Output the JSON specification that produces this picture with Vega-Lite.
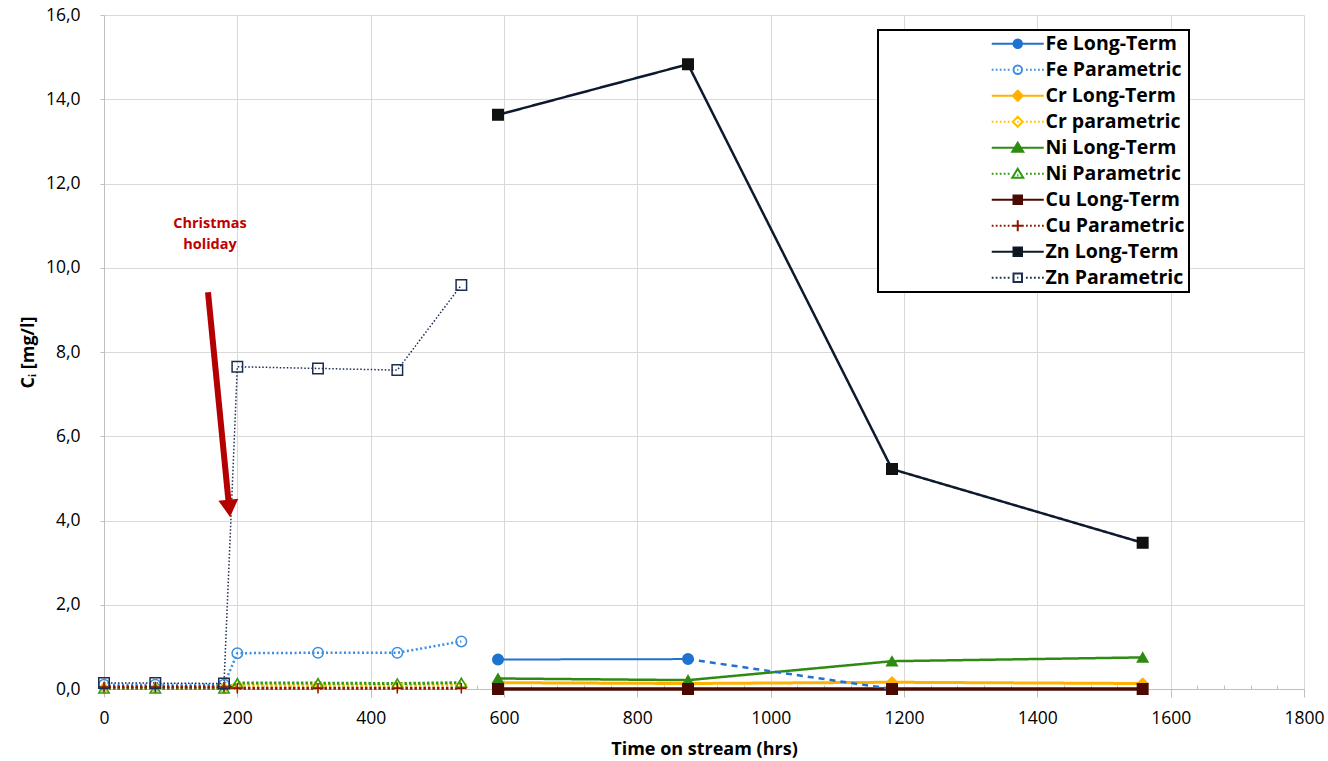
{
  "$schema": "https://vega.github.io/schema/vega-lite/v6.json",
  "width": 1200,
  "height": 674,
  "autosize": {"type": "none"},
  "padding": {"left": 104, "top": 15, "right": 24, "bottom": 72},
  "background": "white",
  "config": {
    "font": "Open Sans",
    "view": {"stroke": null},
    "axis": {
      "gridColor": "#d9d9d9",
      "gridWidth": 1,
      "domainColor": "#bfbfbf",
      "tickColor": "#bfbfbf",
      "labelFont": "Open Sans",
      "labelFontSize": 17.5,
      "labelColor": "#000000",
      "titleFont": "Open Sans",
      "titleFontSize": 18,
      "titleFontWeight": "bold",
      "titleColor": "#000000"
    },
    "legend": {"strokeWidth": 2}
  },
  "datasets": {
    "series": [
      {"series": "Fe Long-Term", "t": 591, "c": 0.70},
      {"series": "Fe Long-Term", "t": 876, "c": 0.71},
      {"series": "Fe Parametric", "t": 0, "c": 0.10},
      {"series": "Fe Parametric", "t": 77, "c": 0.10},
      {"series": "Fe Parametric", "t": 180, "c": 0.10},
      {"series": "Fe Parametric", "t": 200, "c": 0.85},
      {"series": "Fe Parametric", "t": 321, "c": 0.86},
      {"series": "Fe Parametric", "t": 440, "c": 0.86},
      {"series": "Fe Parametric", "t": 536, "c": 1.13},
      {"series": "Cr Long-Term", "t": 591, "c": 0.15},
      {"series": "Cr Long-Term", "t": 876, "c": 0.13},
      {"series": "Cr Long-Term", "t": 1182, "c": 0.16},
      {"series": "Cr Long-Term", "t": 1558, "c": 0.13},
      {"series": "Cr parametric", "t": 0, "c": 0.02},
      {"series": "Cr parametric", "t": 77, "c": 0.02},
      {"series": "Cr parametric", "t": 180, "c": 0.02},
      {"series": "Cr parametric", "t": 200, "c": 0.09},
      {"series": "Cr parametric", "t": 321, "c": 0.09},
      {"series": "Cr parametric", "t": 440, "c": 0.09},
      {"series": "Cr parametric", "t": 536, "c": 0.10},
      {"series": "Ni Long-Term", "t": 591, "c": 0.25},
      {"series": "Ni Long-Term", "t": 876, "c": 0.21},
      {"series": "Ni Long-Term", "t": 1182, "c": 0.66},
      {"series": "Ni Long-Term", "t": 1558, "c": 0.75},
      {"series": "Ni Parametric", "t": 0, "c": 0.01},
      {"series": "Ni Parametric", "t": 77, "c": 0.01},
      {"series": "Ni Parametric", "t": 180, "c": 0.01},
      {"series": "Ni Parametric", "t": 200, "c": 0.14},
      {"series": "Ni Parametric", "t": 321, "c": 0.14},
      {"series": "Ni Parametric", "t": 440, "c": 0.13},
      {"series": "Ni Parametric", "t": 536, "c": 0.15},
      {"series": "Cu Long-Term", "t": 591, "c": 0},
      {"series": "Cu Long-Term", "t": 876, "c": 0},
      {"series": "Cu Long-Term", "t": 1182, "c": 0},
      {"series": "Cu Long-Term", "t": 1558, "c": 0},
      {"series": "Cu Parametric", "t": 0, "c": 0.05},
      {"series": "Cu Parametric", "t": 77, "c": 0.05},
      {"series": "Cu Parametric", "t": 180, "c": 0.05},
      {"series": "Cu Parametric", "t": 200, "c": 0.02},
      {"series": "Cu Parametric", "t": 321, "c": 0.02},
      {"series": "Cu Parametric", "t": 440, "c": 0.02},
      {"series": "Cu Parametric", "t": 536, "c": 0.02},
      {"series": "Zn Long-Term", "t": 591, "c": 13.63},
      {"series": "Zn Long-Term", "t": 876, "c": 14.83},
      {"series": "Zn Long-Term", "t": 1182, "c": 5.22},
      {"series": "Zn Long-Term", "t": 1558, "c": 3.47},
      {"series": "Zn Parametric", "t": 0, "c": 0.14},
      {"series": "Zn Parametric", "t": 77, "c": 0.14},
      {"series": "Zn Parametric", "t": 180, "c": 0.13},
      {"series": "Zn Parametric", "t": 200, "c": 7.65},
      {"series": "Zn Parametric", "t": 321, "c": 7.61},
      {"series": "Zn Parametric", "t": 440, "c": 7.57},
      {"series": "Zn Parametric", "t": 536, "c": 9.59}
    ],
    "gap": [
      {"t": 876, "c": 0.71},
      {"t": 1182, "c": 0.0}
    ],
    "arrow": [
      {"t": 156, "c": 9.42, "t2": 187.8, "c2": 4.29}
    ],
    "note": [
      {"t": 159, "c": 11.05, "label": "Christmas\nholiday"}
    ]
  },
  "encoding": {
    "x": {
      "field": "t",
      "type": "quantitative",
      "scale": {"domain": [0, 1800], "nice": false, "zero": false},
      "axis": {
        "title": "Time on stream (hrs)",
        "values": [0,40,80,120,160,200,240,280,320,360,400,440,480,520,560,600,640,680,720,760,800,840,880,920,960,1000,1040,1080,1120,1160,1200,1240,1280,1320,1360,1400,1440,1480,1520,1560,1600,1640,1680,1720,1760,1800],
        "format": "d",
        "labelExpr": "datum.value % 200 === 0 ? datum.label : ''",
        "gridOpacity": {"condition": {"test": "datum.value % 200 !== 0", "value": 0}, "value": 1},
        "tickSize": {"condition": {"test": "datum.value % 200 !== 0", "value": -4}, "value": 8},
        "labelOverlap": false,
        "labelFlush": false,
        "labelPadding": 12,
        "titlePadding": 14
      }
    },
    "y": {
      "field": "c",
      "type": "quantitative",
      "scale": {"domain": [0, 16], "nice": false},
      "axis": {
        "title": "Cᵢ [mg/l]",
        "values": [0,2,4,6,8,10,12,14,16],
        "labelExpr": "replace(format(datum.value, '.1f'), '.', ',')",
        "tickSize": 4,
        "labelPadding": 20,
        "titlePadding": 8,
        "labelOverlap": false,
        "labelFlush": false
      }
    }
  },
  "layer": [
    {
      "data": {"name": "series"},
      "mark": {"type": "line", "opacity": 1},
      "encoding": {
        "color": {
          "field": "series", "type": "nominal", "legend": null,
          "scale": {
            "domain": ["Fe Long-Term","Fe Parametric","Cr Long-Term","Cr parametric","Ni Long-Term","Ni Parametric","Cu Long-Term","Cu Parametric","Zn Long-Term","Zn Parametric"],
            "range": ["#1f72d0","#3a8fe0","#ffb000","#ffc000","#2e8b12","#2e9a12","#4a0a00","#8b1500","#0c1a2e","#1c2d4f"]
          }
        },
        "strokeDash": {
          "field": "series", "type": "nominal", "legend": null,
          "scale": {
            "domain": ["Fe Long-Term","Fe Parametric","Cr Long-Term","Cr parametric","Ni Long-Term","Ni Parametric","Cu Long-Term","Cu Parametric","Zn Long-Term","Zn Parametric"],
            "range": [[1,0],[2,2.5],[1,0],[2.5,2],[1,0],[2.5,2],[1,0],[2.5,2],[1,0],[1.5,2]]
          }
        },
        "strokeWidth": {
          "field": "series", "type": "nominal", "legend": null,
          "scale": {
            "type": "ordinal",
            "domain": ["Fe Long-Term","Fe Parametric","Cr Long-Term","Cr parametric","Ni Long-Term","Ni Parametric","Cu Long-Term","Cu Parametric","Zn Long-Term","Zn Parametric"],
            "range": [2,2.5,3,3,2.5,3,3.5,3,2.5,1.5]
          }
        }
      }
    },
    {
      "data": {"name": "gap"},
      "mark": {"type": "line", "color": "#1f72d0", "strokeDash": [6,5], "strokeWidth": 2.5},
      "encoding": {}
    },
    {
      "data": {"name": "series"},
      "mark": {"type": "point", "opacity": 1, "size": 110, "strokeWidth": 1.5},
      "encoding": {
        "shape": {
          "field": "series", "type": "nominal", "legend": null,
          "scale": {
            "domain": ["Fe Long-Term","Fe Parametric","Cr Long-Term","Cr parametric","Ni Long-Term","Ni Parametric","Cu Long-Term","Cu Parametric","Zn Long-Term","Zn Parametric"],
            "range": ["circle","circle","diamond","diamond","triangle-up","triangle-up","square","M-1,0L1,0M0,-1L0,1","square","square"]
          }
        },
        "fill": {
          "field": "series", "type": "nominal", "legend": null,
          "scale": {
            "domain": ["Fe Long-Term","Fe Parametric","Cr Long-Term","Cr parametric","Ni Long-Term","Ni Parametric","Cu Long-Term","Cu Parametric","Zn Long-Term","Zn Parametric"],
            "range": ["#1f72d0","transparent","#ffb000","transparent","#2e8b12","transparent","#4a0a00","transparent","#111111","transparent"]
          }
        },
        "stroke": {
          "field": "series", "type": "nominal", "legend": null,
          "scale": {
            "domain": ["Fe Long-Term","Fe Parametric","Cr Long-Term","Cr parametric","Ni Long-Term","Ni Parametric","Cu Long-Term","Cu Parametric","Zn Long-Term","Zn Parametric"],
            "range": ["#1f72d0","#3a8fe0","#ffb000","#ffc000","#2e8b12","#2e9a12","#4a0a00","#8b1500","#111111","#1c2d4f"]
          }
        }
      }
    },
    {
      "data": {"name": "arrow"},
      "mark": {"type": "rule", "color": "#b40000", "strokeWidth": 6},
      "encoding": {
        "x2": {"field": "t2"},
        "y2": {"field": "c2"}
      }
    },
    {
      "data": {"name": "arrow"},
      "mark": {"type": "point", "shape": "triangle-down", "filled": true, "color": "#b40000", "opacity": 1, "size": 400, "angle": 354.4, "strokeWidth": 0},
      "encoding": {
        "x": {"field": "t2", "type": "quantitative"},
        "y": {"field": "c2", "type": "quantitative"}
      }
    },
    {
      "data": {"name": "note"},
      "mark": {"type": "text", "lineBreak": "\n", "align": "center", "baseline": "middle", "font": "Open Sans", "fontSize": 14.5, "fontWeight": "bold", "lineHeight": 21, "color": "#c00000"},
      "encoding": {
        "text": {"field": "label", "type": "nominal"}
      }
    },
    {
      "data": {"name": "series"},
      "transform": [{"filter": "datum.t < -1"}],
      "mark": {"type": "point", "opacity": 1, "size": 100, "strokeWidth": 2.5},
      "encoding": {
        "shape": {
          "field": "series", "type": "nominal",
          "scale": {
            "domain": ["Fe Long-Term","Fe Parametric","Cr Long-Term","Cr parametric","Ni Long-Term","Ni Parametric","Cu Long-Term","Cu Parametric","Zn Long-Term","Zn Parametric"],
            "range": [
              "M-5.2,0L5.2,0M0.85,0A0.85,0.85,0,1,1,-0.85,0A0.85,0.85,0,1,1,0.85,0Z",
              "M-5.2,0L-4.85,0M-4.4,0L-4.05,0M-3.6,0L-3.25,0M-2.8,0L-2.45,0M-2,0L-1.65,0M1.65,0L2,0M2.45,0L2.8,0M3.25,0L3.6,0M4.05,0L4.4,0M4.85,0L5.2,0M0.85,0A0.85,0.85,0,1,1,-0.85,0A0.85,0.85,0,1,1,0.85,0ZM-0.12,0L0.12,0",
              "M-5.2,0L5.2,0M0,-1L1,0L0,1L-1,0Z",
              "M-5.2,0L-4.85,0M-4.4,0L-4.05,0M-3.6,0L-3.25,0M-2.8,0L-2.45,0M-2,0L-1.65,0M1.65,0L2,0M2.45,0L2.8,0M3.25,0L3.6,0M4.05,0L4.4,0M4.85,0L5.2,0M0,-1L1,0L0,1L-1,0ZM-0.12,0L0.12,0",
              "M-5.2,0L5.2,0M0,-1L1.1,0.8L-1.1,0.8Z",
              "M-5.2,0L-4.85,0M-4.4,0L-4.05,0M-3.6,0L-3.25,0M-2.8,0L-2.45,0M-2,0L-1.65,0M1.65,0L2,0M2.45,0L2.8,0M3.25,0L3.6,0M4.05,0L4.4,0M4.85,0L5.2,0M0,-1L1.1,0.8L-1.1,0.8ZM-0.12,0.3L0.12,0.3",
              "M-5.2,0L5.2,0M-0.85,-0.85L0.85,-0.85L0.85,0.85L-0.85,0.85Z",
              "M-5.2,0L-4.85,0M-4.4,0L-4.05,0M-3.6,0L-3.25,0M-2.8,0L-2.45,0M-2,0L-1.65,0M1.65,0L2,0M2.45,0L2.8,0M3.25,0L3.6,0M4.05,0L4.4,0M4.85,0L5.2,0M-1.2,0L1.2,0M0,-1.1L0,1.1",
              "M-5.2,0L5.2,0M-0.85,-0.85L0.85,-0.85L0.85,0.85L-0.85,0.85Z",
              "M-5.2,0L-4.85,0M-4.4,0L-4.05,0M-3.6,0L-3.25,0M-2.8,0L-2.45,0M-2,0L-1.65,0M1.65,0L2,0M2.45,0L2.8,0M3.25,0L3.6,0M4.05,0L4.4,0M4.85,0L5.2,0M-0.85,-0.85L0.85,-0.85L0.85,0.85L-0.85,0.85ZM-0.12,0L0.12,0"
            ]
          },
          "legend": {"title": null, "orient": "none", "direction": "vertical", "legendX": 774, "legendY": 15, "padding": 4, "symbolOffset": 126, "labelOffset": 18, "symbolSize": 100, "symbolStrokeWidth": 2, "labelFont": "Open Sans", "labelFontSize": 19.5, "labelFontWeight": "bold", "labelColor": "#000000", "labelLimit": 500, "rowPadding": 5, "strokeColor": "#000000", "fillColor": "#ffffff", "labelExpr": "datum.label + '\u00a0\u00a0\u00a0\u00a0\u00a0\u00a0\u00a0\u00a0\u00a0\u00a0\u00a0\u00a0\u00a0\u00a0\u00a0\u00a0\u00a0\u00a0\u00a0\u00a0\u00a0\u00a0'"}
        },
        "fill": {
          "field": "series", "type": "nominal",
          "scale": {
            "domain": ["Fe Long-Term","Fe Parametric","Cr Long-Term","Cr parametric","Ni Long-Term","Ni Parametric","Cu Long-Term","Cu Parametric","Zn Long-Term","Zn Parametric"],
            "range": ["#1f72d0","transparent","#ffb000","transparent","#2e8b12","transparent","#4a0a00","transparent","#111111","transparent"]
          },
          "legend": {"title": null, "orient": "none", "direction": "vertical", "legendX": 774, "legendY": 15, "padding": 4, "symbolOffset": 126, "labelOffset": 18, "symbolSize": 100, "symbolStrokeWidth": 2, "labelFont": "Open Sans", "labelFontSize": 19.5, "labelFontWeight": "bold", "labelColor": "#000000", "labelLimit": 500, "rowPadding": 5, "strokeColor": "#000000", "fillColor": "#ffffff", "labelExpr": "datum.label + '\u00a0\u00a0\u00a0\u00a0\u00a0\u00a0\u00a0\u00a0\u00a0\u00a0\u00a0\u00a0\u00a0\u00a0\u00a0\u00a0\u00a0\u00a0\u00a0\u00a0\u00a0\u00a0'"}
        },
        "stroke": {
          "field": "series", "type": "nominal",
          "scale": {
            "domain": ["Fe Long-Term","Fe Parametric","Cr Long-Term","Cr parametric","Ni Long-Term","Ni Parametric","Cu Long-Term","Cu Parametric","Zn Long-Term","Zn Parametric"],
            "range": ["#1f72d0","#3a8fe0","#ffb000","#ffc000","#2e8b12","#2e9a12","#4a0a00","#8b1500","#0c1a2e","#1c2d4f"]
          },
          "legend": {"title": null, "orient": "none", "direction": "vertical", "legendX": 774, "legendY": 15, "padding": 4, "symbolOffset": 126, "labelOffset": 18, "symbolSize": 100, "symbolStrokeWidth": 2, "labelFont": "Open Sans", "labelFontSize": 19.5, "labelFontWeight": "bold", "labelColor": "#000000", "labelLimit": 500, "rowPadding": 5, "strokeColor": "#000000", "fillColor": "#ffffff", "labelExpr": "datum.label + '\u00a0\u00a0\u00a0\u00a0\u00a0\u00a0\u00a0\u00a0\u00a0\u00a0\u00a0\u00a0\u00a0\u00a0\u00a0\u00a0\u00a0\u00a0\u00a0\u00a0\u00a0\u00a0'"}
        }
      }
    }
  ],
  "resolve": {"scale": {"shape": "independent", "fill": "independent", "stroke": "independent"}}
}
